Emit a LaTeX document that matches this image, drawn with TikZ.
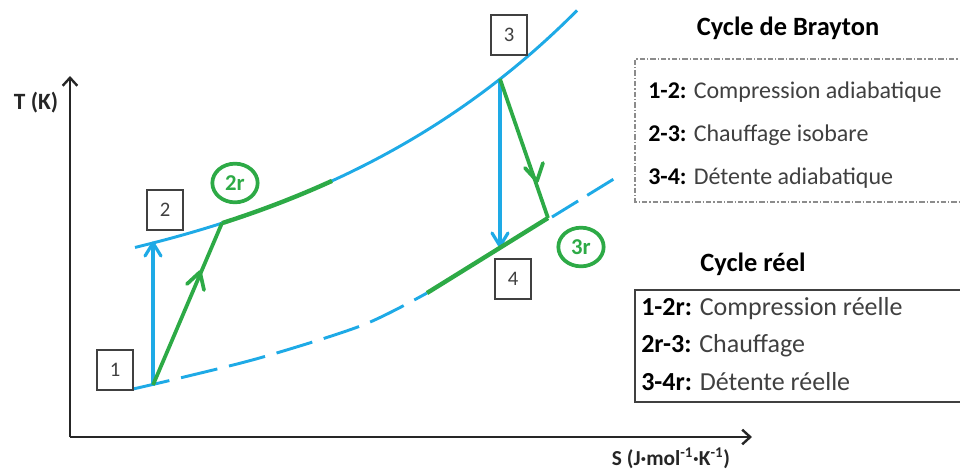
\documentclass[tikz,border=0pt]{standalone}
\usepackage{fontspec}
\setmainfont{Carlito}
\usetikzlibrary{arrows.meta,shapes.geometric}
\definecolor{cblue}{RGB}{30,170,230}
\definecolor{cgreen}{RGB}{45,170,70}
\definecolor{txt}{RGB}{64,64,64}
\begin{document}
\begin{tikzpicture}[x=0.75pt,y=-0.75pt,
  axis/.style={line width=1.8pt, black!85, -{Straight Barb[length=6pt,width=11pt]}},
  bline/.style={draw=cblue, line width=2.2pt},
  vline/.style={draw=cblue, line width=2.6pt},
  gline/.style={draw=cgreen, line width=2.8pt},
  barbtip/.style={line width=2.4pt, line cap=round, line join=round},
  ptbox/.style={draw=black!75, line width=1pt, fill=white, minimum width=27pt, minimum height=30pt, inner sep=0pt, font=\fontsize{15.5}{15.5}\selectfont, text=txt},
  rlabel/.style={ellipse, draw=cgreen, line width=2.8pt, minimum width=34pt, minimum height=29pt, inner sep=0pt, font=\bfseries\fontsize{17}{17}\selectfont, text=cgreen},
  legtxt/.style={anchor=west, inner sep=0pt, text=txt},
  title/.style={font=\bfseries\fontsize{19.8}{19.8}\selectfont, text=black}
]
\useasboundingbox (0,0) rectangle (960,472);

% key points
\coordinate (o) at (70,437);
\coordinate (ytip) at (70,76);
\coordinate (xtip) at (752,437);
\coordinate (p1) at (153,385);
\coordinate (p2) at (153,243);
\coordinate (p2r) at (222,223);
\coordinate (p3) at (500,79);
\coordinate (p3r) at (548,218);
\coordinate (p4) at (500,246);
\coordinate (q) at (427,293);
\coordinate (d1) at (552,217);
\coordinate (d2) at (617,177);

% axes
\draw[axis] (o) -- (ytip);
\draw[axis] (o) -- (xtip);

% upper isobar
\draw[bline] plot[domain=135:577, samples=80] (\x,{322.4-48.5*exp(\x/310)});
% lower isobar
\draw[bline, dash pattern=on 28pt off 9pt] plot[smooth] coordinates {(133,389) (180,378) (263,357) (363,325) (q)};
\draw[bline, dash pattern=on 23pt off 8pt] (d1) -- (d2);

% ideal transformations (open V arrow heads)
\draw[vline] (p1) -- (p2);
\draw[vline, barbtip] (145,256) -- (p2) -- (161,256);
\draw[vline] (p3) -- (p4);
\draw[vline, barbtip] (492,233) -- (p4) -- (508,233);

% real transformations
\draw[gline, line width=3.3pt] plot[domain=222:332, samples=30] (\x,{322.4-48.5*exp(\x/310)});
\draw[gline] (p1) -- (p2r);
\draw[gline, barbtip, line width=2.8pt] (187,284) -- (200,272) -- (204,290);
\draw[gline, line join=round] (p3) -- (p3r);
\draw[gline, barbtip, line width=2.8pt] (525,168) -- (537,181) -- (543,163);
\draw[gline, line width=3.3pt, line join=round] (p3r) -- (q);

% point labels
\node[ptbox] (n1) at (115,370) {1};
\node[ptbox] (n2) at (165,210) {2};
\node[ptbox] (n3) at (509,35) {3};
\node[ptbox] (n4) at (513,279) {4};
\node[rlabel] (n2r) at (235,183) {2r};
\node[rlabel] (n3r) at (581,247) {3r};

% axis labels
\node[font=\bfseries\fontsize{17.5}{17.5}\selectfont, text=black!85] (tl) at (36,103) {T (K)};
\node[font=\bfseries\fontsize{16}{16}\selectfont, text=black!85] (sl) at (671,458) {S (J·mol\textsuperscript{-1}·K\textsuperscript{-1})};

% legend: Brayton
\node[title] (tb) at (788,28) {Cycle de Brayton};
\draw[black!45, line width=0.8pt, dash pattern=on 4pt off 1.5pt on 1pt off 1.5pt] (965,59) -- (635,59) -- (635,202) -- (965,202);
\node[legtxt, font=\fontsize{18}{18}\selectfont] (b1) at (648,92) {\textbf{\color{black}1-2:} Compression adiabatique};
\node[legtxt, font=\fontsize{18}{18}\selectfont] (b2) at (648,135) {\textbf{\color{black}2-3:} Chauffage isobare};
\node[legtxt, font=\fontsize{18}{18}\selectfont] (b3) at (648,178) {\textbf{\color{black}3-4:} Détente adiabatique};

% legend: real cycle
\node[title] (tr) at (753,264) {Cycle réel};
\draw[black!75, line width=1.3pt] (965,290) -- (635,290) -- (635,402) -- (965,402);
\node[legtxt, font=\fontsize{19.5}{19.5}\selectfont] (r1) at (641,309) {\textbf{\color{black}1-2r:} Compression réelle};
\node[legtxt, font=\fontsize{19.5}{19.5}\selectfont] (r2) at (641,346) {\textbf{\color{black}2r-3:} Chauffage};
\node[legtxt, font=\fontsize{19.5}{19.5}\selectfont] (r3) at (641,382) {\textbf{\color{black}3-4r:} Détente réelle};
\end{tikzpicture}
\end{document}
